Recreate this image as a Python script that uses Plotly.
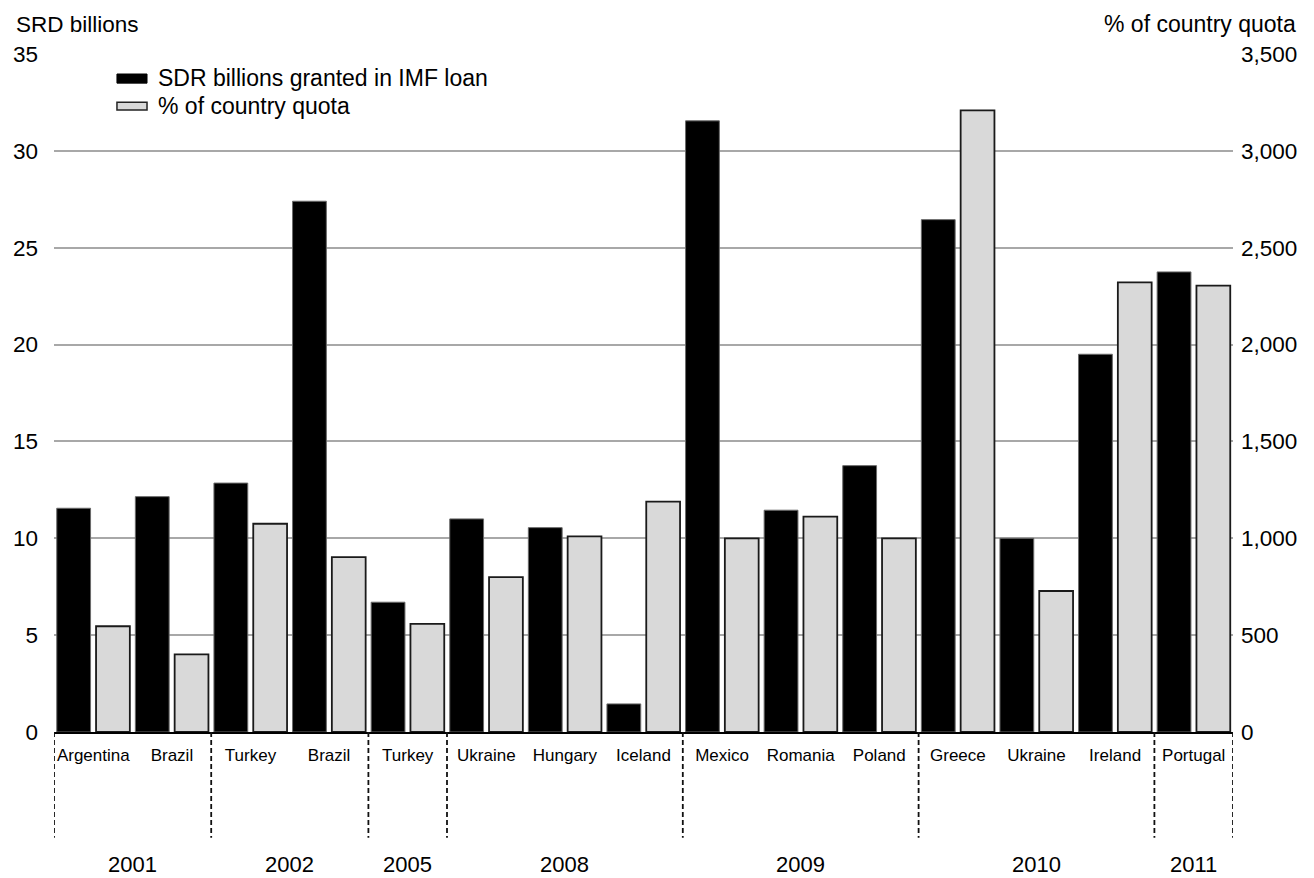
import plotly.graph_objects as go

countries = ["Argentina", "Brazil", "Turkey", "Brazil", "Turkey", "Ukraine", "Hungary", "Iceland",
             "Mexico", "Romania", "Poland", "Greece", "Ukraine", "Ireland", "Portugal"]
years = ["2001", "2002", "2005", "2008", "2009", "2010", "2011"]
year_sizes = [2, 2, 1, 3, 3, 3, 1]
sdr_billions = [11.55, 12.15, 12.85, 27.4, 6.7, 11.0, 10.55, 1.45,
                31.55, 11.45, 13.75, 26.45, 10.0, 19.5, 23.75]
pct_quota = [546, 401, 1075, 903, 558, 800, 1010, 1189,
             1000, 1112, 1000, 3209, 728, 2321, 2304]

FONT = "Liberation Sans, Arial, Helvetica, sans-serif"
idx = list(range(len(countries)))

fig = go.Figure()
fig.add_trace(go.Bar(
    x=idx, y=sdr_billions, name="SDR billions granted in IMF loan",
    offset=-0.465, width=0.43,
    marker=dict(color="#000000", line=dict(color="#6a6a6a", width=1)),
    yaxis="y", showlegend=False,
))
fig.add_trace(go.Bar(
    x=idx, y=pct_quota, name="% of country quota",
    offset=0.035, width=0.43,
    marker=dict(color="#d9d9d9", line=dict(color="#1a1a1a", width=1.8)),
    yaxis="y2", showlegend=False,
))

# year group boundaries and labels
shapes = []
annotations = []
start = 0
bounds = [-0.5]
for yr, n in zip(years, year_sizes):
    center = start + (n - 1) / 2
    annotations.append(dict(x=center, y=-0.195, xref="x", yref="paper", text=yr,
                            showarrow=False, xanchor="center", yanchor="middle",
                            font=dict(family=FONT, size=22, color="#000")))
    start += n
    bounds.append(start - 0.5)
for b in bounds:
    shapes.append(dict(type="line", x0=b, x1=b, xref="x", y0=0, y1=-0.156, yref="paper",
                       line=dict(color="#111", width=1.8, dash="5px,3px")))

# legend (manual)
shapes.append(dict(type="rect", xref="paper", yref="paper", x0=0.0534, x1=0.0789,
                   y0=0.957, y1=0.9705, fillcolor="#000", line=dict(color="#000", width=1)))
shapes.append(dict(type="rect", xref="paper", yref="paper", x0=0.0534, x1=0.0789,
                   y0=0.9174, y1=0.929, fillcolor="#d9d9d9", line=dict(color="#222", width=1.5)))
annotations.append(dict(x=0.0865, y=0.9646, xref="paper", yref="paper",
                        text="SDR billions granted in IMF loan", showarrow=False,
                        xanchor="left", yanchor="middle", font=dict(family=FONT, size=23, color="#000")))
annotations.append(dict(x=0.0865, y=0.9233, xref="paper", yref="paper",
                        text="% of country quota", showarrow=False,
                        xanchor="left", yanchor="middle", font=dict(family=FONT, size=23, color="#000")))

# axis titles
annotations.append(dict(x=-0.034, y=1.044, xref="paper", yref="paper", text="SRD billions",
                        showarrow=False, xanchor="left", yanchor="middle",
                        font=dict(family=FONT, size=22.5, color="#000")))
annotations.append(dict(x=1.055, y=1.044, xref="paper", yref="paper", text="% of country quota",
                        showarrow=False, xanchor="right", yanchor="middle",
                        font=dict(family=FONT, size=23, color="#000")))

fig.update_layout(
    width=1314, height=878,
    margin=dict(l=54, r=81, t=54, b=146),
    paper_bgcolor="white", plot_bgcolor="white",
    barmode="overlay",
    font=dict(family=FONT, color="#000"),
    xaxis=dict(
        range=[-0.5, 14.5], tickvals=idx, ticktext=countries,
        tickfont=dict(family=FONT, size=17, color="#000"),
        showgrid=False, zeroline=False, showline=True, linecolor="#000", linewidth=2,
        ticks="", ticklabelstandoff=7,
    ),
    yaxis=dict(
        range=[0, 35], tickvals=[0, 5, 10, 15, 20, 25, 30, 35],
        tickfont=dict(family=FONT, size=22.5, color="#000"),
        showgrid=True, gridcolor="#a8a8a8", gridwidth=1.5,
        zeroline=False, showline=False, ticks="", ticklabelstandoff=15,
    ),
    yaxis2=dict(
        range=[0, 3500], tickvals=[0, 500, 1000, 1500, 2000, 2500, 3000, 3500],
        ticktext=["0", "500", "1,000", "1,500", "2,000", "2,500", "3,000", "3,500"],
        tickfont=dict(family=FONT, size=22.5, color="#000"),
        overlaying="y", side="right", showgrid=False, zeroline=False, showline=False,
        ticks="", ticklabelstandoff=7,
    ),
    shapes=shapes,
    annotations=annotations,
)

fig.write_html("out.html")
